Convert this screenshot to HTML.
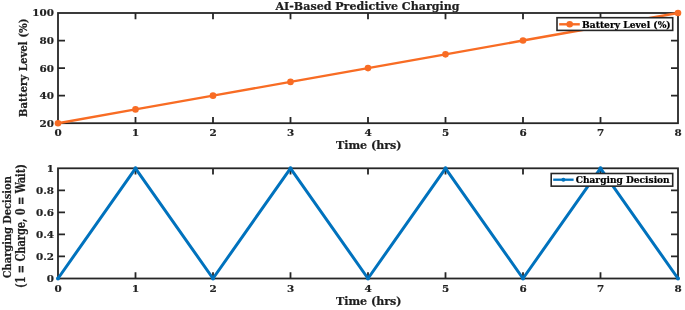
<!DOCTYPE html><html><head><meta charset="utf-8"><style>html,body{margin:0;padding:0;background:#fff;width:685px;height:310px;overflow:hidden}svg{display:block}text{font-family:'DejaVu Serif', 'Liberation Serif', serif;font-weight:bold;fill:#1e1e1e;stroke:#1e1e1e;stroke-width:0.22px}</style></head><body><svg width="685" height="310" viewBox="0 0 685 310"><rect width="685" height="310" fill="#fff"/><path d="M135.50 123.20V116.90M135.50 13.00V19.30M213.00 123.20V116.90M213.00 13.00V19.30M290.50 123.20V116.90M290.50 13.00V19.30M368.00 123.20V116.90M368.00 13.00V19.30M445.50 123.20V116.90M445.50 13.00V19.30M523.00 123.20V116.90M523.00 13.00V19.30M600.50 123.20V116.90M600.50 13.00V19.30M58.00 95.65H65.00M678.00 95.65H671.00M58.00 68.10H65.00M678.00 68.10H671.00M58.00 40.55H65.00M678.00 40.55H671.00" stroke="#262626" stroke-width="1.80" fill="none"/><rect x="58.00" y="13.00" width="620.00" height="110.20" fill="none" stroke="#262626" stroke-width="1.80"/><path d="M135.50 278.50V272.20M135.50 168.30V174.60M213.00 278.50V272.20M213.00 168.30V174.60M290.50 278.50V272.20M290.50 168.30V174.60M368.00 278.50V272.20M368.00 168.30V174.60M445.50 278.50V272.20M445.50 168.30V174.60M523.00 278.50V272.20M523.00 168.30V174.60M600.50 278.50V272.20M600.50 168.30V174.60M58.00 256.46H65.00M678.00 256.46H671.00M58.00 234.42H65.00M678.00 234.42H671.00M58.00 212.38H65.00M678.00 212.38H671.00M58.00 190.34H65.00M678.00 190.34H671.00" stroke="#262626" stroke-width="1.80" fill="none"/><rect x="58.00" y="168.30" width="620.00" height="110.20" fill="none" stroke="#262626" stroke-width="1.80"/><polyline points="58.00,123.20 135.50,109.42 213.00,95.65 290.50,81.88 368.00,68.10 445.50,54.33 523.00,40.55 600.50,26.78 678.00,13.00" fill="none" stroke="#F86C24" stroke-width="2.40" stroke-linejoin="round"/><circle cx="58.00" cy="123.20" r="3.30" fill="#F86C24"/><circle cx="135.50" cy="109.42" r="3.30" fill="#F86C24"/><circle cx="213.00" cy="95.65" r="3.30" fill="#F86C24"/><circle cx="290.50" cy="81.88" r="3.30" fill="#F86C24"/><circle cx="368.00" cy="68.10" r="3.30" fill="#F86C24"/><circle cx="445.50" cy="54.33" r="3.30" fill="#F86C24"/><circle cx="523.00" cy="40.55" r="3.30" fill="#F86C24"/><circle cx="600.50" cy="26.78" r="3.30" fill="#F86C24"/><circle cx="678.00" cy="13.00" r="3.30" fill="#F86C24"/><polyline points="58.00,278.50 135.50,168.30 213.00,278.50 290.50,168.30 368.00,278.50 445.50,168.30 523.00,278.50 600.50,168.30 678.00,278.50" fill="none" stroke="#0072BD" stroke-width="3.00" stroke-linejoin="round" stroke-linecap="round"/><circle cx="58.00" cy="278.50" r="2.00" fill="#0072BD"/><circle cx="135.50" cy="168.30" r="2.00" fill="#0072BD"/><circle cx="213.00" cy="278.50" r="2.00" fill="#0072BD"/><circle cx="290.50" cy="168.30" r="2.00" fill="#0072BD"/><circle cx="368.00" cy="278.50" r="2.00" fill="#0072BD"/><circle cx="445.50" cy="168.30" r="2.00" fill="#0072BD"/><circle cx="523.00" cy="278.50" r="2.00" fill="#0072BD"/><circle cx="600.50" cy="168.30" r="2.00" fill="#0072BD"/><circle cx="678.00" cy="278.50" r="2.00" fill="#0072BD"/><text transform="translate(58.00,136.20) scale(1.080,1)" font-size="9.60" text-anchor="middle" style="stroke-width:0.18px;fill:#222;stroke:#222">0</text><text transform="translate(135.50,136.20) scale(1.080,1)" font-size="9.60" text-anchor="middle" style="stroke-width:0.18px;fill:#222;stroke:#222">1</text><text transform="translate(213.00,136.20) scale(1.080,1)" font-size="9.60" text-anchor="middle" style="stroke-width:0.18px;fill:#222;stroke:#222">2</text><text transform="translate(290.50,136.20) scale(1.080,1)" font-size="9.60" text-anchor="middle" style="stroke-width:0.18px;fill:#222;stroke:#222">3</text><text transform="translate(368.00,136.20) scale(1.080,1)" font-size="9.60" text-anchor="middle" style="stroke-width:0.18px;fill:#222;stroke:#222">4</text><text transform="translate(445.50,136.20) scale(1.080,1)" font-size="9.60" text-anchor="middle" style="stroke-width:0.18px;fill:#222;stroke:#222">5</text><text transform="translate(523.00,136.20) scale(1.080,1)" font-size="9.60" text-anchor="middle" style="stroke-width:0.18px;fill:#222;stroke:#222">6</text><text transform="translate(600.50,136.20) scale(1.080,1)" font-size="9.60" text-anchor="middle" style="stroke-width:0.18px;fill:#222;stroke:#222">7</text><text transform="translate(678.00,136.20) scale(1.080,1)" font-size="9.60" text-anchor="middle" style="stroke-width:0.18px;fill:#222;stroke:#222">8</text><text transform="translate(58.00,291.50) scale(1.080,1)" font-size="9.60" text-anchor="middle" style="stroke-width:0.18px;fill:#222;stroke:#222">0</text><text transform="translate(135.50,291.50) scale(1.080,1)" font-size="9.60" text-anchor="middle" style="stroke-width:0.18px;fill:#222;stroke:#222">1</text><text transform="translate(213.00,291.50) scale(1.080,1)" font-size="9.60" text-anchor="middle" style="stroke-width:0.18px;fill:#222;stroke:#222">2</text><text transform="translate(290.50,291.50) scale(1.080,1)" font-size="9.60" text-anchor="middle" style="stroke-width:0.18px;fill:#222;stroke:#222">3</text><text transform="translate(368.00,291.50) scale(1.080,1)" font-size="9.60" text-anchor="middle" style="stroke-width:0.18px;fill:#222;stroke:#222">4</text><text transform="translate(445.50,291.50) scale(1.080,1)" font-size="9.60" text-anchor="middle" style="stroke-width:0.18px;fill:#222;stroke:#222">5</text><text transform="translate(523.00,291.50) scale(1.080,1)" font-size="9.60" text-anchor="middle" style="stroke-width:0.18px;fill:#222;stroke:#222">6</text><text transform="translate(600.50,291.50) scale(1.080,1)" font-size="9.60" text-anchor="middle" style="stroke-width:0.18px;fill:#222;stroke:#222">7</text><text transform="translate(678.00,291.50) scale(1.080,1)" font-size="9.60" text-anchor="middle" style="stroke-width:0.18px;fill:#222;stroke:#222">8</text><text transform="translate(54.00,126.65) scale(1.080,1)" font-size="9.60" text-anchor="end" style="stroke-width:0.18px;fill:#222;stroke:#222">20</text><text transform="translate(54.00,99.10) scale(1.080,1)" font-size="9.60" text-anchor="end" style="stroke-width:0.18px;fill:#222;stroke:#222">40</text><text transform="translate(54.00,71.55) scale(1.080,1)" font-size="9.60" text-anchor="end" style="stroke-width:0.18px;fill:#222;stroke:#222">60</text><text transform="translate(54.00,44.00) scale(1.080,1)" font-size="9.60" text-anchor="end" style="stroke-width:0.18px;fill:#222;stroke:#222">80</text><text transform="translate(54.00,16.45) scale(1.080,1)" font-size="9.60" text-anchor="end" style="stroke-width:0.18px;fill:#222;stroke:#222">100</text><text transform="translate(54.00,281.95) scale(1.080,1)" font-size="9.60" text-anchor="end" style="stroke-width:0.18px;fill:#222;stroke:#222">0</text><text transform="translate(54.00,259.91) scale(1.080,1)" font-size="9.60" text-anchor="end" style="stroke-width:0.18px;fill:#222;stroke:#222">0.2</text><text transform="translate(54.00,237.87) scale(1.080,1)" font-size="9.60" text-anchor="end" style="stroke-width:0.18px;fill:#222;stroke:#222">0.4</text><text transform="translate(54.00,215.83) scale(1.080,1)" font-size="9.60" text-anchor="end" style="stroke-width:0.18px;fill:#222;stroke:#222">0.6</text><text transform="translate(54.00,193.79) scale(1.080,1)" font-size="9.60" text-anchor="end" style="stroke-width:0.18px;fill:#222;stroke:#222">0.8</text><text transform="translate(54.00,171.75) scale(1.080,1)" font-size="9.60" text-anchor="end" style="stroke-width:0.18px;fill:#222;stroke:#222">1</text><text transform="translate(275.50,9.50)" font-size="11.00" textLength="184.0" lengthAdjust="spacingAndGlyphs">AI-Based Predictive Charging</text><text transform="translate(336.00,149.20)" font-size="10.50" textLength="65.5" lengthAdjust="spacingAndGlyphs">Time (hrs)</text><text transform="translate(336.00,304.90)" font-size="10.50" textLength="65.5" lengthAdjust="spacingAndGlyphs">Time (hrs)</text><text transform="translate(27.00,117.20) rotate(-90)" font-size="10.50" textLength="98.8" lengthAdjust="spacingAndGlyphs">Battery Level (%)</text><text transform="translate(11.40,278.20) rotate(-90)" font-size="10.80" textLength="102.0" lengthAdjust="spacingAndGlyphs">Charging Decision</text><text transform="translate(25.30,288.00) rotate(-90)" font-size="12.20" textLength="124.0" lengthAdjust="spacingAndGlyphs">(1 = Charge, 0 = Wait)</text><rect x="557.0" y="17.7" width="115.7" height="12.7" fill="#fff" stroke="#262626" stroke-width="1.6"/><line x1="559.2" y1="24.3" x2="579.8" y2="24.3" stroke="#F86C24" stroke-width="2.40"/><circle cx="569.7" cy="24.3" r="3.30" fill="#F86C24"/><text transform="translate(582.00,27.50)" font-size="9.20" textLength="88.7" lengthAdjust="spacingAndGlyphs" style="fill:#000;stroke:#000">Battery Level (%)</text><rect x="551.2" y="173.5" width="121.5" height="12.65" fill="#fff" stroke="#262626" stroke-width="1.6"/><line x1="553.2" y1="179.7" x2="573.6" y2="179.7" stroke="#0072BD" stroke-width="2.3"/><circle cx="563.4" cy="179.7" r="2.00" fill="#0072BD"/><text transform="translate(575.70,183.00)" font-size="9.20" textLength="94.0" lengthAdjust="spacingAndGlyphs" style="fill:#000;stroke:#000">Charging Decision</text></svg></body></html>
